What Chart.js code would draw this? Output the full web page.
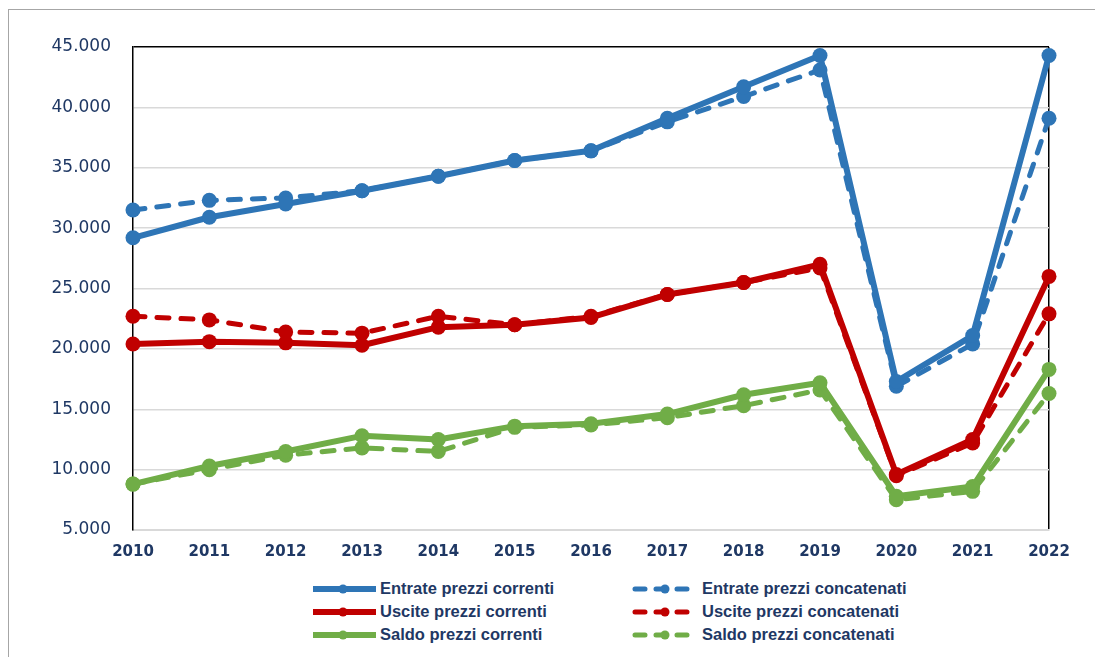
<!DOCTYPE html>
<html>
<head>
<meta charset="utf-8">
<script src="https://cdn.jsdelivr.net/npm/chart.js@4/dist/chart.umd.min.js"></script>
<style>
  body { margin: 0; background: #fff; }
  #frame { position: absolute; left: 8px; top: 9px; width: 1200px; height: 700px;
           border-left: 1px solid #a6a6a6; border-top: 1px solid #a6a6a6; }
  #wrap { position: absolute; left: 0; top: 0; width: 1095px; height: 570px; }
  #legend { position: absolute; left: 310px; top: 577px; display: grid;
            grid-template-columns: 322px 330px; }
  .item { display: flex; align-items: center; height: 23px;
          font: bold 16.5px 'Liberation Sans', Arial, sans-serif; color: #1f3864; white-space: nowrap; }
  .item svg { margin-right: 4px; }
</style>
</head>
<body>
<div id="frame"></div>
<div id="wrap"><canvas id="lineChart"></canvas></div>
<div id="legend"></div>
<script>
'use strict'

const years = ['2010', '2011', '2012', '2013', '2014', '2015', '2016', '2017', '2018', '2019', '2020', '2021', '2022'];

const entrateCorrenti    = [29200, 30900, 32000, 33100, 34300, 35600, 36400, 39100, 41700, 44300, 17300, 21100, 44300];
const entrateConcatenati = [31500, 32300, 32500, 33100, 34300, 35600, 36400, 38800, 40900, 43100, 16900, 20400, 39100];
const usciteCorrenti     = [20400, 20600, 20500, 20300, 21800, 22000, 22600, 24500, 25500, 27000, 9600, 12500, 26000];
const usciteConcatenati  = [22700, 22400, 21400, 21300, 22700, 22000, 22700, 24500, 25500, 26700, 9500, 12200, 22900];
const saldoCorrenti      = [8800, 10300, 11500, 12800, 12500, 13600, 13800, 14600, 16200, 17200, 7800, 8600, 18300];
const saldoConcatenati   = [8800, 10000, 11200, 11800, 11500, 13500, 13700, 14300, 15300, 16600, 7500, 8200, 16300];

const BLUE = '#2e75b6';
const RED = '#c00000';
const GREEN = '#70ad47';
const NAVY = '#1f3864';
const DASH = [12, 12];

function serie(label, data, color, dashed) {
  return {
    label: label,
    data: data,
    borderColor: color,
    backgroundColor: color,
    borderWidth: dashed ? 5 : 6,
    borderDash: dashed ? DASH : [],
    borderCapStyle: dashed ? 'round' : 'butt',
    borderJoinStyle: 'round',
    pointRadius: 7.5,
    pointBorderWidth: 0,
    pointBackgroundColor: color,
    tension: 0,
    clip: false
  };
}

const datasets = [
  serie('Entrate prezzi correnti', entrateCorrenti, BLUE, false),
  serie('Entrate prezzi concatenati', entrateConcatenati, BLUE, true),
  serie('Uscite prezzi correnti', usciteCorrenti, RED, false),
  serie('Uscite prezzi concatenati', usciteConcatenati, RED, true),
  serie('Saldo prezzi correnti', saldoCorrenti, GREEN, false),
  serie('Saldo prezzi concatenati', saldoConcatenati, GREEN, true)
];

// numbers with a dot as thousands separator
function migliaia(v) {
  return String(v).replace(/\B(?=(\d{3})+(?!\d))/g, '.');
}

const ctx = document.getElementById('lineChart').getContext('2d');
const lineChart = new Chart(ctx, {
  type: 'line',
  data: { labels: years, datasets: datasets },
  options: {
    responsive: true,
    maintainAspectRatio: false,
    animation: false,
    layout: { padding: { left: 8, top: 47, right: 46, bottom: 0 } },
    plugins: { legend: { display: false }, tooltip: { enabled: false } },
    scales: {
      x: {
        offset: false,
        afterFit: function (scale) { scale.height = 40; },
        grid: {
          drawTicks: false,
          lineWidth: 1.5,
          color: function (c) { return c.index === years.length - 1 ? '#000' : 'rgba(0,0,0,0)'; }
        },
        border: { color: '#d9d9d9', width: 2 },
        ticks: {
          padding: 13,
          color: NAVY,
          maxRotation: 0,
          autoSkip: false,
          font: { family: 'DejaVu Sans', size: 15, weight: 'bold' }
        }
      },
      y: {
        min: 5000,
        max: 45000,
        afterFit: function (scale) { scale.width = 125; },
        grid: {
          drawTicks: false,
          lineWidth: 1.5,
          color: function (c) { return c.tick && c.tick.value === 45000 ? '#000' : '#d9d9d9'; }
        },
        border: { color: '#000', width: 1.5 },
        ticks: {
          stepSize: 5000,
          padding: 22,
          color: NAVY,
          font: { family: 'DejaVu Sans', size: 17 },
          callback: function (v) { return migliaia(v); }
        }
      }
    }
  }
});

// legend in two columns, built from the datasets
const legend = document.getElementById('legend');
datasets.forEach(function (ds) {
  const item = document.createElement('div');
  item.className = 'item';
  const dash = ds.borderDash.length ? ' stroke-dasharray="10 11" stroke-linecap="round"' : '';
  item.innerHTML =
    '<svg width="66" height="12" viewBox="0 0 66 12">' +
    '<line x1="3" y1="6" x2="' + (dash ? 63 : 66) + '" y2="6" stroke="' + ds.borderColor + '" stroke-width="' +
    (dash ? 5 : 6) + '"' + dash + '/>' +
    '<circle cx="33" cy="6" r="4.5" fill="' + ds.borderColor + '"/></svg>' +
    '<span>' + ds.label + '</span>';
  legend.appendChild(item);
});
</script>
</body>
</html>
